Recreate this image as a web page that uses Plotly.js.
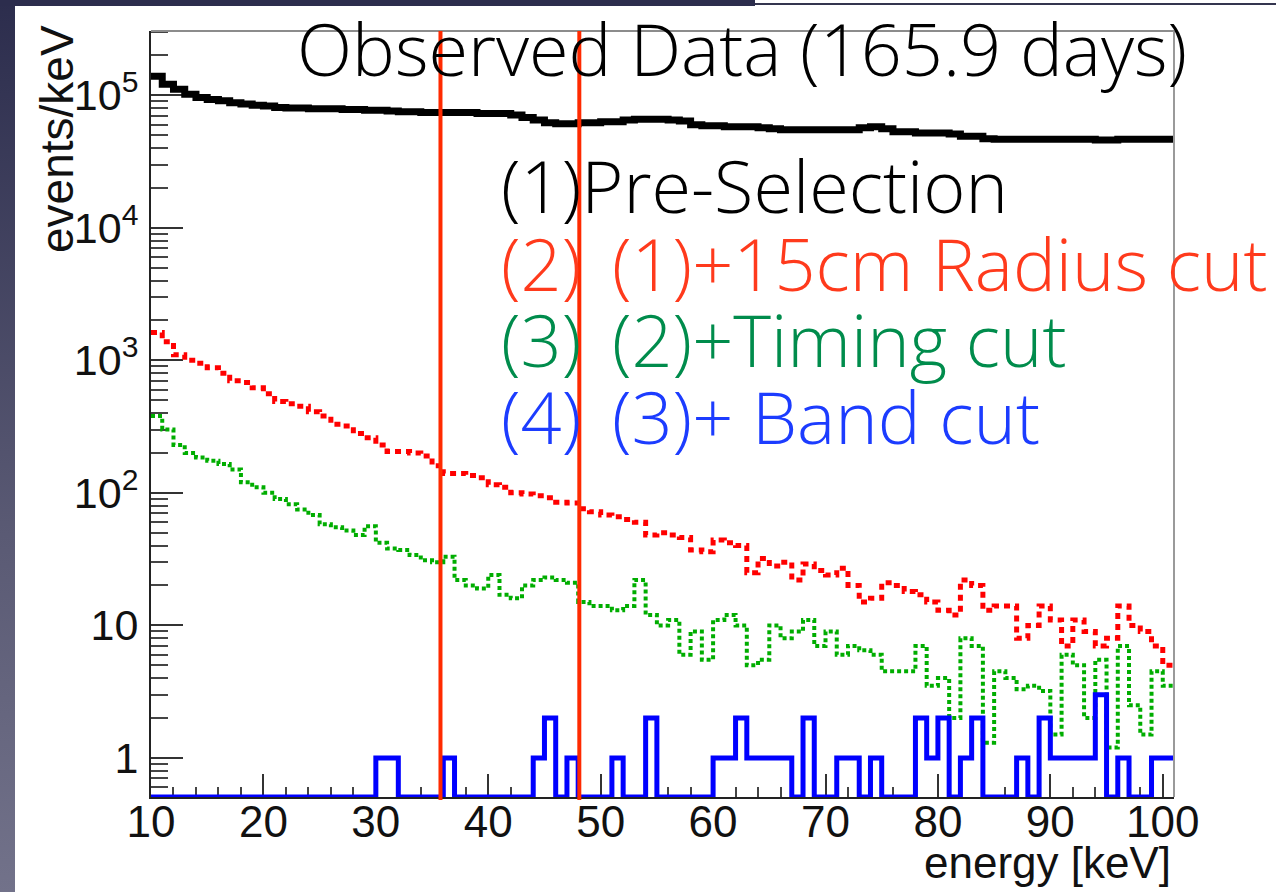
<!DOCTYPE html>
<html>
<head>
<meta charset="utf-8">
<script src="https://cdn.plot.ly/plotly-3.0.1.min.js"></script>
<style>
  html, body { margin: 0; padding: 0; background: #ffffff; width: 1276px; height: 892px; overflow: hidden; }
  #leftStrip { position: absolute; left: 0; top: 0; width: 15px; height: 892px; background: linear-gradient(#2c2d4d, #5a5a74 60%, #72728a); }
  #topStrip { position: absolute; left: 0; top: 0; width: 755px; height: 6px; background: #2c2d4d; }
  #topLine { position: absolute; left: 755px; top: 3px; width: 521px; height: 2px; background: #34354f; }
  #chart { position: absolute; left: 0; top: 0; width: 1276px; height: 892px; }
</style>
</head>
<body>
<div id="leftStrip"></div>
<div id="topStrip"></div>
<div id="topLine"></div>
<div id="chart"></div>
<script>
// ---------- data (events/keV per 1 keV bin) ----------
const binEdges = [10,11,12,13,14,15,16,17,18,19,20,21,22,23,24,25,26,27,28,29,30,31,32,33,34,35,36,37,38,39,40,
  41,42,43,44,45,46,47,48,49,50,51,52,53,54,55,56,57,58,59,60,61,62,63,64,65,66,67,68,69,70,
  71,72,73,74,75,76,77,78,79,80,81,82,83,84,85,86,87,88,89,90,91,92,93,94,95,96,97,98,99,100,101];

// (1) Pre-Selection
const preSelection = [139000,121000,111000,102000,96000,93000,91000,88000,86000,84000,
  83000,81000,80000,80000,79000,79000,79000,78000,78000,77000,
  77000,76000,75000,75000,74000,74000,74000,74000,74000,73000,
  73000,73000,71000,68000,65000,62000,61000,61000,62000,62000,
  63000,63000,65000,66000,66000,66000,65000,64000,60000,59000,
  59000,58000,58000,58000,57000,56000,55000,55000,55000,55000,
  55000,55000,55000,57000,58000,56000,53000,53000,52000,52000,
  52000,51000,49000,49000,47000,46500,46500,46500,46500,46500,
  46500,46500,46500,46500,46000,46000,46500,46500,46500,46500,46500];

// (2) (1)+15cm Radius cut
const radiusCut = [1620,1380,1100,1000,950,880,800,700,680,620,
  560,490,470,450,410,380,330,320,280,260,
  230,205,205,200,190,160,140,140,135,130,
  115,110,100,98,95,92,85,84,76,72,
  68,66,63,60,48,50,48,46,37,36,
  44,42,40,25,32,28,30,22,29,26,
  24,27,20,15,16,21,20,18,17,15,
  13,12,22,20,13,14,14,8,10,14,
  11,7,11,9,7,8,14,10,9,7,5];

// (3) (2)+Timing cut
const timingCut = [380,300,230,200,185,175,165,150,120,110,
  100,90,82,75,68,58,55,52,48,56,
  42,38,37,34,31,30,33,22,20,19,
  24,17,16,20,22,23,22,21,15,14,
  14,13,14,22,12,10,11,6,9,5.5,
  11,12,10,5,5.5,10,8,9,11,7,
  9,6,7,6.5,6,4.5,4.5,4.5,7,3.5,
  4,2,8,7,1.3,4.5,4,3.3,3.5,3.2,
  1.5,6,5,2,5.5,1.2,7,2.5,1.5,4.5,3.5];

// (4) (3)+ Band cut
const bandCut = [0,0,0,0,0,0,0,0,0,0,
  0,0,0,0,0,0,0,0,0,0,
  1,1,0,0,0,0,1,0,0,0,
  0,0,0,0,1,2,0,1,0,0,
  0,1,0,0,2,0,0,0,0,0,
  1,1,2,1,1,1,1,0,2,0,
  0,1,1,0,1,0,0,0,2,1,
  2,0,1,2,0,0,0,1,0,2,
  1,1,1,1,3,0,1,0,0,1,1];

// cut positions drawn as red vertical lines (keV)
const cutLines = [35.75, 48.1];

const xTickVals = [10,20,30,40,50,60,70,80,90,100];
const xTickText = ['10','20','30','40','50','60','70','80','90','100'];
const yTickVals = [1,10,100,1000,10000,100000];
const yTickText = ['1','10','10<sup>2</sup>','10<sup>3</sup>','10<sup>4</sup>','10<sup>5</sup>'];

const titleText = 'Observed Data (165.9 days)';
const legendTexts = ['(1)Pre-Selection', '(2)\u00a0\u2009(1)+15cm Radius cut', '(3)\u00a0\u2009(2)+Timing cut', '(4)\u00a0\u2009(3)+ Band cut'];
const legendColors = ['#000000', '#ff3a1c', '#008c4c', '#1c3cff'];

// ---------- helpers ----------
const yLogMin = -0.295, yLogMax = 5.485;
const yFloor = Math.pow(10, yLogMin);
function stepTrace(vals, color, width, dash, zeroToFloor) {
  const ys = vals.map(v => (zeroToFloor && v <= 0) ? yFloor : v);
  ys.push(ys[ys.length - 1]);
  return {
    type: 'scatter', mode: 'lines', x: binEdges, y: ys,
    line: { shape: 'hv', color: color, width: width, dash: dash },
    hoverinfo: 'skip', cliponaxis: false
  };
}

const traces = [
  stepTrace(preSelection, '#000000', 7, 'solid', false),
  stepTrace(radiusCut, '#ff0000', 5, '6px,5px', false),
  stepTrace(timingCut, '#00ad00', 4, '4px,3px', false),
  stepTrace(bandCut, '#0000ff', 5, 'solid', true)
];

// minor ticks on log axis (2..9 per decade)
const yMinor = [];
for (let d = -1; d <= 5; d++) for (let m = 2; m <= 9; m++) yMinor.push(m * Math.pow(10, d));

const PLOT_L = 151, PLOT_T = 31, PLOT_R = 1174, PLOT_B = 797;
const px2x = px => (px - PLOT_L) / (PLOT_R - PLOT_L);
const px2y = py => (PLOT_B - py) / (PLOT_B - PLOT_T);

const overlayFont = '"Open Sans", "Liberation Sans", Arial, sans-serif';
const annotations = [
  { text: titleText, xref: 'paper', yref: 'paper', x: px2x(295), y: px2y(48), xanchor: 'left', yanchor: 'middle',
    showarrow: false, font: { family: overlayFont, size: 72, color: '#000', weight: 300 } },
  { text: 'energy [keV]', xref: 'paper', yref: 'paper', x: px2x(1173), y: px2y(862), xanchor: 'right', yanchor: 'middle',
    showarrow: false, font: { family: 'Liberation Sans, Arial, sans-serif', size: 44, color: '#111' } },
  { text: 'events/keV', xref: 'paper', yref: 'paper', x: px2x(57), y: px2y(139), xanchor: 'center', yanchor: 'middle',
    textangle: -90, showarrow: false, font: { family: 'Liberation Sans, Arial, sans-serif', size: 46, color: '#111' } }
];
const legendCenters = [185, 263, 339, 416];
legendTexts.forEach((t, i) => annotations.push({
  text: t, xref: 'paper', yref: 'paper', x: px2x(499), y: px2y(legendCenters[i]), xanchor: 'left', yanchor: 'middle',
  showarrow: false, font: { family: overlayFont, size: 72, color: legendColors[i], weight: 300 }
}));

const shapes = [
  { type: 'line', xref: 'paper', yref: 'paper', x0: 0, x1: 1, y0: 1, y1: 1, line: { color: '#8c8c8c', width: 2 } },
  { type: 'line', xref: 'paper', yref: 'paper', x0: 1, x1: 1, y0: 0, y1: 1, line: { color: '#9a9a9a', width: 2 } }
];
cutLines.forEach(v => shapes.push({
  type: 'line', xref: 'x', yref: 'paper', x0: v, x1: v, y0: -0.004, y1: 1.0, layer: 'above',
  line: { color: '#ff2a00', width: 4 }
}));

const layout = {
  width: 1276, height: 892,
  margin: { l: PLOT_L, r: 1276 - PLOT_R, t: PLOT_T, b: 892 - PLOT_B, pad: 0 },
  paper_bgcolor: 'rgba(0,0,0,0)', plot_bgcolor: '#ffffff',
  showlegend: false,
  xaxis: {
    range: [10, 101], showgrid: false, zeroline: false,
    showline: true, linecolor: '#222', linewidth: 2,
    ticks: 'inside', ticklen: 23, tickwidth: 2, tickcolor: '#333',
    tickmode: 'array', tickvals: xTickVals, ticktext: xTickText,
    tickfont: { family: 'Liberation Sans, Arial, sans-serif', size: 44, color: '#111' },
    ticklabelstandoff: -15,
    minor: { tickmode: 'linear', tick0: 10, dtick: 2, ticks: 'inside', ticklen: 10, tickwidth: 2, tickcolor: '#444', showgrid: false },
    layer: 'below traces', fixedrange: true
  },
  yaxis: {
    type: 'log', range: [yLogMin, yLogMax], showgrid: false, zeroline: false,
    showline: true, linecolor: '#222', linewidth: 2,
    ticks: 'inside', ticklen: 32, tickwidth: 2, tickcolor: '#333',
    tickmode: 'array', tickvals: yTickVals, ticktext: yTickText,
    tickfont: { family: 'Liberation Sans, Arial, sans-serif', size: 43, color: '#111' },
    ticklabelstandoff: 2,
    minor: { tickmode: 'array', tickvals: yMinor, ticks: 'inside', ticklen: 17, tickwidth: 2, tickcolor: '#444', showgrid: false },
    layer: 'below traces', fixedrange: true
  },
  shapes: shapes,
  annotations: annotations
};

Plotly.newPlot('chart', traces, layout, { staticPlot: true, displayModeBar: false });
</script>
</body>
</html>
